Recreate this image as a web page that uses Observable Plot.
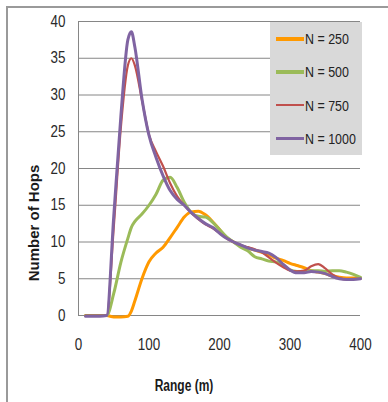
<!DOCTYPE html>
<html>
<head>
<meta charset="utf-8">
<script src="https://cdn.jsdelivr.net/npm/d3@7"></script>
<script src="https://cdn.jsdelivr.net/npm/@observablehq/plot@0.6"></script>
<style>
  html, body { margin: 0; padding: 0; background: #fff; }
  #wrap { position: relative; width: 388px; height: 402px; overflow: hidden; }
  #frame { position: absolute; left: 6px; top: 6px; width: 400px; height: 420px;
           border-top: 2px solid #9a9a9a; border-left: 2px solid #9a9a9a; }
  #chart { position: absolute; left: 0; top: 0; }
  .ytitle { position: absolute; left: 33px; top: 223px; transform: translate(-50%, -50%) rotate(-90deg);
            font: bold 15px "Liberation Sans", Arial, sans-serif; color: #1a1a1a; white-space: nowrap; }
  .xtitle { position: absolute; left: 184px; top: 378px; transform: translateX(-50%) scaleX(0.75);
            font: bold 16px "Liberation Sans", Arial, sans-serif; line-height: 1;
            color: #1a1a1a; white-space: nowrap; }
  #legend { position: absolute; left: 270px; top: 22px; width: 92px; height: 133px; background: #d9d9d9; }
  .row { height: 33.3px; display: flex; align-items: center; }
  .sw { margin-left: 6px; width: 28px; flex: none; }
  .lab { font: 15px "Liberation Sans", Arial, sans-serif; color: #222; margin-left: 1px; white-space: nowrap;
         transform: scaleX(0.83); transform-origin: left center; }
</style>
</head>
<body>
<div id="wrap">
  <div id="frame"></div>
  <div id="chart"></div>
  <div class="ytitle">Number of Hops</div>
  <div class="xtitle">Range (m)</div>
  <div id="legend"></div>
</div>
<script>
// Range values (m)
const range = [10,20,30,40,50,60,70,75,80,90,100,110,120,130,140,150,160,170,180,190,200,
               210,220,230,240,250,260,270,280,290,300,310,320,330,340,350,360,370,380,390,400];
// Number of hops for each node count
const n250  = [0,0,0,0,-0.2,-0.2,-0.1,0.6,2,5,7.3,8.5,9.3,10.6,12,13.4,14.1,14.2,13.7,12.8,11.7,
               10.6,10,9.5,9.2,8.9,8.6,8.3,7.8,7.5,7.1,6.8,6.5,6.1,5.9,5.7,5.4,5.2,5.1,5.1,5.1];
const n500  = [0,0,0,0,3,7.2,10.5,12,12.8,13.8,15,16.5,18.4,18.8,17.4,15.4,14,13.5,13.4,12.7,11.7,
               10.7,10,9.3,8.8,8,7.7,7.4,7.3,6.8,6.2,6,6,6.1,6.1,6,6.1,6.1,5.9,5.6,5.2];
const n750  = [0,0,0,0,12,25.5,34,35,34,29.3,24.6,22.3,20.3,18,16.2,15,14,13.1,12.4,11.9,11.2,
               10.5,10,9.6,9.3,9,8.6,7.9,7.2,6.6,6.1,6,6.1,6.7,7,6.4,5.6,5.1,4.9,5,5];
const n1000 = [-0.1,-0.1,-0.1,0,13.5,27,37.5,38.6,36.5,29.5,24.5,21.5,19,17,15.8,15,14,13.2,12.5,12,11.2,
               10.5,10,9.6,9.2,8.9,8.7,8.5,7.9,7,6.2,5.8,5.8,6,5.9,5.7,5.3,5,4.9,4.9,5];
const seriesNames = ["N = 250", "N = 500", "N = 750", "N = 1000"];
const seriesColors = ["#ff9900", "#9bbb59", "#c0504d", "#8064a2"];
const seriesWidths = [3, 3, 2.2, 3];
const legendWidths = [4, 3.5, 2, 3];
const yTicks = [0,5,10,15,20,25,30,35,40];
const xTicks = [0,100,200,300,400];

const allValues = [n250, n500, n750, n1000];
const lineMarks = allValues.map((vals, i) =>
  Plot.line(range.map((r, j) => ({range: r, hops: vals[j]})), {
    x: "range", y: "hops", stroke: seriesColors[i], strokeWidth: seriesWidths[i],
    curve: "monotone-x", strokeLinejoin: "round", strokeLinecap: "round"
  })
);

const chart = Plot.plot({
  width: 388,
  height: 402,
  marginLeft: 78,
  marginRight: 28,
  marginTop: 21,
  marginBottom: 87,
  style: {background: "transparent", fontFamily: "'Liberation Sans', Arial, sans-serif",
          fontSize: "16px", color: "#2a2a2a"},
  x: {domain: [0, 400]},
  y: {domain: [0, 40]},
  marks: [
    Plot.gridY(yTicks, {stroke: "#868686", strokeOpacity: 1, strokeWidth: 1}),
    Plot.ruleX([0], {stroke: "#868686", strokeWidth: 1}),
    Plot.axisY(yTicks, {tickSize: 0, tickPadding: 13, label: null, fontSize: 16}),
    Plot.axisX(xTicks, {tickSize: 0, tickPadding: 23, label: null, fontSize: 16}),
    ...lineMarks
  ]
});
// condense tick labels horizontally (narrow look of the original)
chart.querySelectorAll("g[aria-label='y-axis tick label'] text, g[aria-label='x-axis tick label'] text").forEach(t => {
  const tr = t.getAttribute("transform") || "";
  t.setAttribute("transform", tr + " scale(0.84,1)");
});
document.getElementById("chart").appendChild(chart);

const legend = document.getElementById("legend");
seriesNames.forEach((name, i) => {
  const row = document.createElement("div");
  row.className = "row";
  const sw = document.createElement("div");
  sw.className = "sw";
  sw.style.height = legendWidths[i] + "px";
  sw.style.background = seriesColors[i];
  const lab = document.createElement("span");
  lab.className = "lab";
  lab.textContent = name;
  row.appendChild(sw);
  row.appendChild(lab);
  legend.appendChild(row);
});
</script>
</body>
</html>
